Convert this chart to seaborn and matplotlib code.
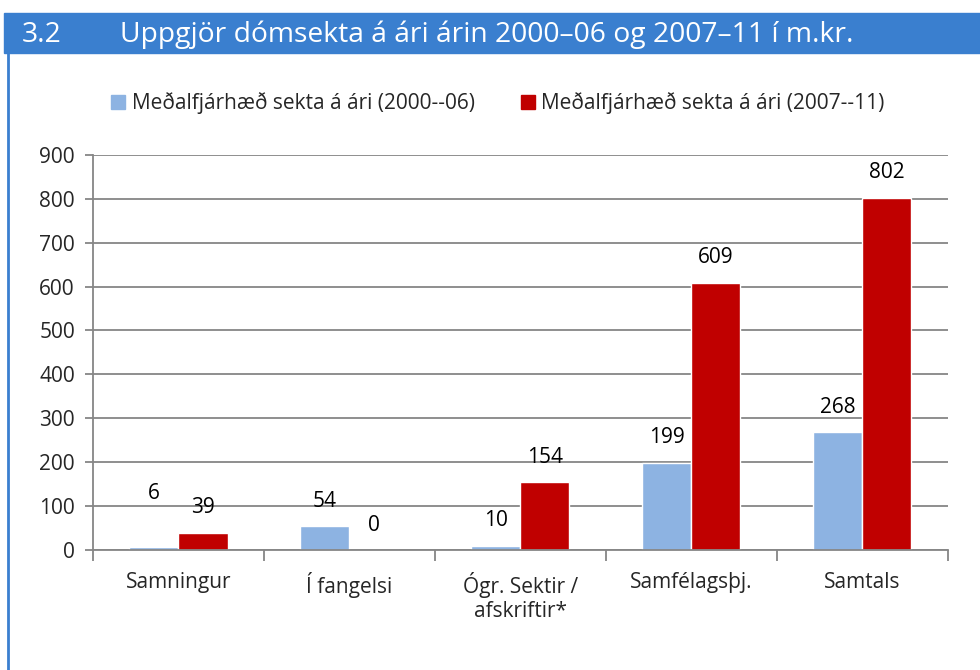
import pandas as pd
import matplotlib.pyplot as plt
import seaborn as sns
from matplotlib.patches import Rectangle
from matplotlib.lines import Line2D

# Data
categories = ['Samningur', 'Í fangelsi', 'Ógr. Sektir /\nafskriftir*', 'Samfélagsþj.', 'Samtals']
series_names = ['Meðalfjárhæð sekta á ári (2000--06)', 'Meðalfjárhæð sekta á ári (2007--11)']
values_2000_06 = [6, 54, 10, 199, 268]
values_2007_11 = [39, 0, 154, 609, 802]
colors = ['#8DB3E2', '#C00000']

df = pd.DataFrame({
    'Flokkur': categories * 2,
    'Tímabil': [series_names[0]] * len(categories) + [series_names[1]] * len(categories),
    'Upphæð': values_2000_06 + values_2007_11,
})

sns.set_style('white')
plt.rcParams['font.family'] = ['Open Sans', 'DejaVu Sans']
fs = 15

fig = plt.figure(figsize=(9.8, 6.7), dpi=100)
ax = fig.add_axes([0.0949, 0.179, 0.872, 0.590])

sns.barplot(data=df, x='Flokkur', y='Upphæð', hue='Tímabil', palette=colors,
            width=0.575, saturation=1, ax=ax, legend=False)

ax.set_ylim(0, 900)
ax.set_xlim(-0.5, len(categories) - 0.5)
ax.set_yticks(range(0, 1000, 100))
ax.yaxis.grid(True, color='#868686', linewidth=1.3)
ax.set_axisbelow(True)
ax.set_xlabel('')
ax.set_ylabel('')
for s in ['top', 'right']:
    ax.spines[s].set_visible(False)
for s in ['left', 'bottom']:
    ax.spines[s].set_color('#868686')
    ax.spines[s].set_linewidth(1.3)

ax.tick_params(axis='y', labelsize=fs, length=6, width=1.3, color='#868686', pad=7, left=True)
ax.tick_params(axis='x', labelsize=fs, length=0, pad=16)
# tick marks at category borders
ax.set_xticks([i - 0.5 for i in range(len(categories) + 1)], minor=True)
ax.tick_params(axis='x', which='minor', length=8, width=1.3, color='#868686', bottom=True)

# value labels
for cont, vals in zip(ax.containers, [values_2000_06, values_2007_11]):
    for bar, v in zip(cont, vals):
        x = bar.get_x() + bar.get_width() / 2
        off = 54 if (v == 6) else 25
        ax.annotate(str(v), (x, v), xytext=(0, off * 0.72), textcoords='offset points',
                    ha='center', va='center', fontsize=fs, color='black')

# legend
handles = [Rectangle((0, 0), 1, 1, color=c) for c in colors]
fig.legend(handles, series_names, loc='center', bbox_to_anchor=(0.508, 0.846), ncol=2,
           frameon=False, fontsize=fs, handlelength=0.7, handleheight=0.7,
           handletextpad=0.3, columnspacing=2.2)

# header bar and frame
fig.patches.append(Rectangle((0.004, 1 - 53 / 670), 0.996, 40 / 670, transform=fig.transFigure,
                             color='#3A7FCF', zorder=0))
fig.lines.append(Line2D([0.0085, 0.0085], [0, 1 - 53 / 670], transform=fig.transFigure,
                        color='#3A7FCF', linewidth=2))
fig.text(0.022, 1 - 35 / 670, '3.2', color='white', fontsize=20.3, va='center', ha='left')
fig.text(0.122, 1 - 35 / 670, 'Uppgjör dómsekta á ári árin 2000–06 og 2007–11 í m.kr.',
         color='white', fontsize=20.3, va='center', ha='left')

fig.savefig('out.png', dpi=100)
